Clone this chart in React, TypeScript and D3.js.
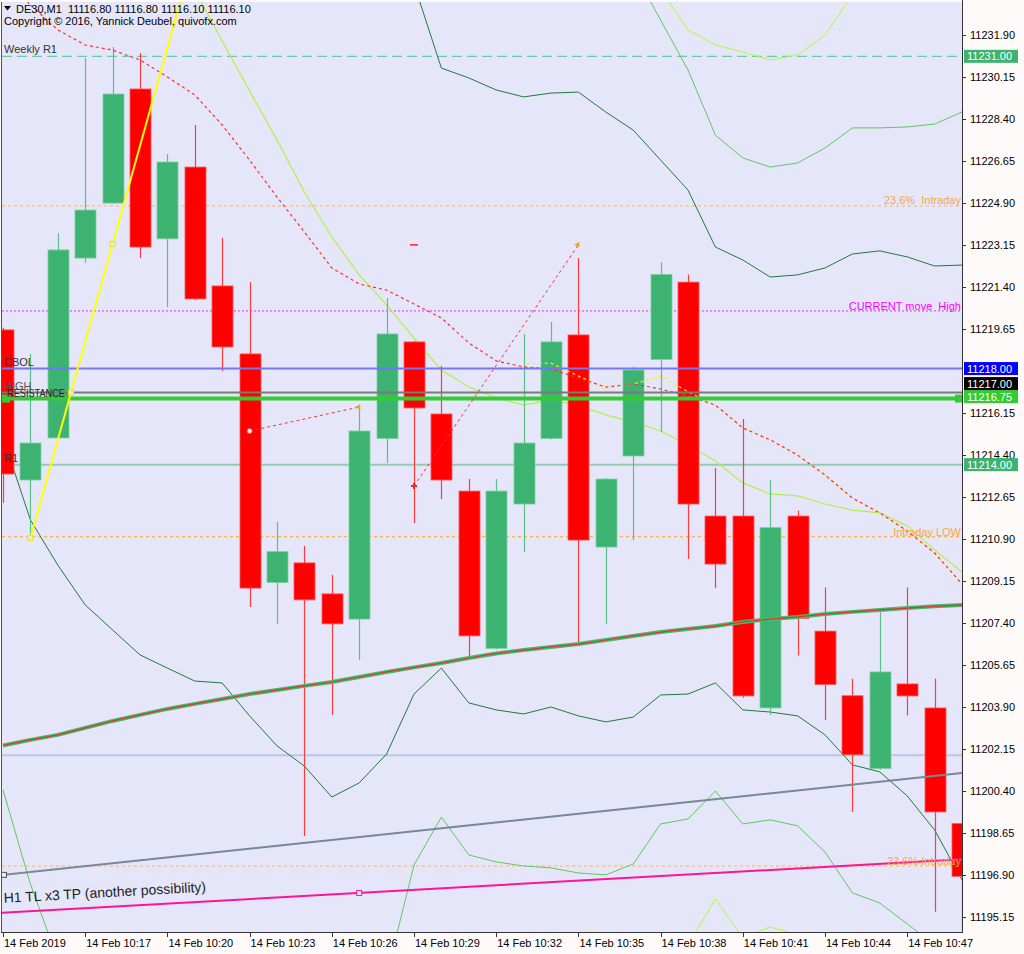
import React, { useEffect } from "react";
import * as d3 from "d3";

// ---------- data ----------
const timeTickBars = [0, 3, 6, 9, 12, 15, 18, 21, 24, 27, 30, 33];
const timeLabels = [
  "14 Feb 2019", "14 Feb 10:17", "14 Feb 10:20", "14 Feb 10:23", "14 Feb 10:26", "14 Feb 10:29",
  "14 Feb 10:32", "14 Feb 10:35", "14 Feb 10:38", "14 Feb 10:41", "14 Feb 10:44", "14 Feb 10:47",
];
// 11217.90 is hidden behind the level boxes in the reference
const priceTicks = [
  11195.15, 11196.9, 11198.65, 11200.4, 11202.15, 11203.9, 11205.65, 11207.4, 11209.15, 11210.9,
  11212.65, 11214.4, 11216.15, 11219.65, 11221.4, 11223.15, 11224.9, 11226.65, 11228.4,
  11230.15, 11231.9,
];

const opens = [11219.61, 11213.36, 11215.11, 11222.6, 11224.89, 11229.64, 11223.4, 11226.39, 11221.44, 11218.61, 11209.09, 11209.91, 11208.62, 11207.57, 11215.09, 11219.11, 11216.11, 11212.9, 11206.35, 11212.36, 11215.09, 11219.4, 11210.57, 11214.36, 11218.38, 11221.6, 11211.86, 11211.86, 11203.87, 11211.86, 11207.07, 11204.38, 11201.35, 11204.87, 11203.87, 11199.06];
const highs = [11219.7, 11218.61, 11223.64, 11230.93, 11231.39, 11231.14, 11226.93, 11228.14, 11223.44, 11221.6, 11211.61, 11210.61, 11209.41, 11216.4, 11220.94, 11219.15, 11218.11, 11213.4, 11213.4, 11219.44, 11219.94, 11222.6, 11213.45, 11218.08, 11222.42, 11221.92, 11213.86, 11215.9, 11213.36, 11212.09, 11208.89, 11205.09, 11207.85, 11208.89, 11205.09, 11202.12];
const lows = [11212.4, 11210.95, 11215.05, 11222.4, 11224.85, 11222.6, 11220.56, 11220.85, 11217.9, 11208.07, 11207.37, 11198.54, 11203.58, 11205.87, 11214.07, 11211.57, 11212.57, 11205.91, 11206.3, 11210.36, 11215.05, 11206.53, 11207.37, 11210.86, 11215.36, 11210.07, 11208.86, 11204.3, 11203.58, 11206.05, 11203.37, 11199.54, 11201.3, 11203.56, 11195.38, 11194.5];
const closes = [11213.61, 11214.9, 11222.94, 11224.6, 11229.43, 11223.06, 11226.6, 11220.9, 11218.9, 11208.86, 11210.38, 11208.37, 11207.37, 11215.4, 11219.44, 11216.36, 11213.36, 11206.87, 11212.9, 11214.9, 11219.11, 11210.86, 11213.4, 11217.94, 11221.92, 11212.36, 11209.86, 11204.37, 11211.38, 11207.6, 11204.85, 11201.92, 11205.37, 11204.37, 11199.54, 11196.86];

// moving averages / bands (null = not drawn)
const maSlow = [11202.31, 11202.54, 11202.75, 11203.04, 11203.33, 11203.58, 11203.83, 11204.04, 11204.24, 11204.45, 11204.62, 11204.79, 11204.95, 11205.16, 11205.37, 11205.56, 11205.74, 11205.95, 11206.14, 11206.28, 11206.41, 11206.53, 11206.7, 11206.87, 11207.03, 11207.16, 11207.28, 11207.45, 11207.57, 11207.66, 11207.78, 11207.87, 11207.95, 11208.03, 11208.1, 11208.16];
const redDotted = [11234.4, 11233.14, 11232.1, 11231.47, 11231.26, 11230.85, 11230.14, 11229.39, 11228.14, 11226.68, 11225.14, 11223.69, 11222.19, 11221.52, 11221.27, 11220.69, 11220.11, 11219.07, 11218.32, 11218.07, 11217.98, 11217.61, 11217.23, 11217.36, 11217.15, 11216.86, 11216.48, 11215.53, 11215.03, 11214.4, 11213.57, 11212.61, 11211.99, 11211.24, 11210.32, 11209.03];
const yellowDotted = [null, null, null, null, null, null, null, null, null, null, null, null, null, null, null, null, null, null, null, 11218.19, 11218.23, 11217.69, 11217.19, 11217.36, 11217.69, 11217.03, 11216.48, 11215.53, 11215.03, 11214.4, 11213.57, 11212.61, 11211.99, 11211.24, 11210.32, 11209.03];
const limeMa = [null, null, null, null, null, null, null, 11233.76, 11231.64, 11229.56, 11227.52, 11225.35, 11223.48, 11221.9, 11220.65, 11219.27, 11217.94, 11217.23, 11216.78, 11216.48, 11216.69, 11216.48, 11216.07, 11215.78, 11215.4, 11214.82, 11214.15, 11213.24, 11212.78, 11212.7, 11212.36, 11212.11, 11211.99, 11211.45, 11210.45, 11209.53];
const bandUpperDark = [null, null, null, null, null, null, null, null, null, null, null, null, null, null, null, 11234.01, 11230.51, 11230.1, 11229.6, 11229.31, 11229.47, 11229.51, 11228.68, 11227.93, 11226.68, 11225.43, 11223.06, 11222.52, 11221.81, 11221.9, 11222.19, 11222.77, 11222.9, 11222.65, 11222.27, 11222.31];
const bandLowerDark = [11215.15, 11211.7, 11209.82, 11208.16, 11207.12, 11206.08, 11205.53, 11204.99, 11204.91, 11203.54, 11202.29, 11201.45, 11200.16, 11200.75, 11201.95, 11204.45, 11205.53, 11204.08, 11203.79, 11203.62, 11203.91, 11203.54, 11203.29, 11203.49, 11204.41, 11204.45, 11204.91, 11203.79, 11203.7, 11203.54, 11202.75, 11201.5, 11201.21, 11200.21, 11198.79, 11196.71];
const bandUpperMid = [null, null, null, null, null, null, null, null, null, null, null, null, null, null, null, null, null, null, null, null, null, null, null, 11234.59, 11232.51, 11230.43, 11227.72, 11226.77, 11226.39, 11226.56, 11227.18, 11228.02, 11228.02, 11228.06, 11228.18, 11228.68];
const bandLowerMid = [11200.46, 11196.54, 11193.4, null, null, null, null, null, null, null, null, null, null, null, 11192.75, 11197.33, 11199.33, 11197.75, 11197.46, 11197.29, 11197.21, 11197.0, 11196.92, 11197.37, 11199.04, 11199.25, 11200.41, 11199.04, 11199.21, 11198.96, 11197.87, 11196.17, 11195.75, 11194.88, 11194.0, 11193.4];
const bandUpperOuter = [null, null, null, null, null, null, null, null, null, null, null, null, null, null, null, null, null, null, null, null, null, null, null, null, 11233.76, 11232.1, 11231.47, 11231.18, 11230.85, 11231.05, 11231.89, 11233.55, null, null, null, null];
const bandLowerOuter = [null, null, null, null, null, null, null, null, null, null, null, null, null, null, null, null, null, null, null, null, null, null, null, null, 11192.0, 11193.99, 11195.92, 11194.3, 11194.75, 11194.42, 11193.4, null, null, null, null, null];

// horizontal levels
const weeklyR1 = 11231.0;
const intradayFib236Top = 11224.77;
const currentMoveHigh = 11220.4;
const cbolLevel = 11218.0;
const highLevel = 11217.0;
const resistanceLevel = 11216.75;
const r1Level = 11214.0;
const intradayLow = 11211.0;
const steelLevel = 11201.9;
const intradayFib236Bottom = 11197.29;

// trend lines: [bar, price] anchors
const grayTL = [[0, 11196.92], [35, 11201.16]];
const pinkTL = [[0, 11195.34], [35, 11197.57]];
const yellowTL = [[1, 11210.95], [4, 11223.19]];
const tradeA = [[9, 11215.4], [13, 11216.4]];
const tradeB = [[15, 11213.11], [21, 11223.15]];

// ---------- chart ----------
const W = 1024;
const H = 954;
const L = 2, R = 962, T = 2, B = 932;
const FONT = "'Liberation Sans', Arial, sans-serif";

const x = d3.scaleLinear().domain([0, 35]).range([3, 962]);
const y = d3.scaleLinear().domain([11195.15, 11231.9]).range([917.4, 34.7]);

const BULL = "#3cb371";
const BEAR = "#ff0000";

function series(vals: (number | null)[]) {
  return d3
    .line<number | null>()
    .defined((v) => v != null)
    .x((_, i) => x(i))
    .y((v) => y(v as number))(vals) || "";
}

function lineAt(tl: number[][], bar: number) {
  const [[b0, p0], [b1, p1]] = tl;
  return p0 + ((p1 - p0) * (bar - b0)) / (b1 - b0);
}

export default function App() {
  useEffect(() => {
    document.body.style.margin = "0";
  }, []);

  const yb0 = yellowTL[0][0];
  const yp0 = yellowTL[0][1];
  const slope = (yellowTL[1][1] - yellowTL[0][1]) / (yellowTL[1][0] - yellowTL[0][0]);
  const yEndBar = yb0 + (y.invert(T) - yp0) / slope;
  const yCrossBar = yb0 + (highLevel - yp0) / slope;

  const hLine = (p: number, stroke: string, sw: number, dash?: string) => (
    <line x1={L} x2={R} y1={y(p)} y2={y(p)} stroke={stroke} strokeWidth={sw} strokeDasharray={dash} />
  );

  const rightLabel = (p: number, text: string, color: string, dy = -2) => (
    <text x={R - 1} y={y(p) + dy} textAnchor="end" fill={color} fontSize={11} style={{ whiteSpace: "pre" }}>
      {text}
    </text>
  );

  const box = (cy: number, text: string, bg: string, fg = "#ffffff") => (
    <g>
      <rect x={964} y={cy - 6.5} width={54} height={13} fill={bg} />
      <text x={967} y={cy + 4} fill={fg} fontSize={11}>
        {text}
      </text>
    </g>
  );

  const square = (cx: number, cy: number, color: string) => (
    <rect x={cx - 2.5} y={cy - 2.5} width={5} height={5} fill="#e6e6fa" stroke={color} strokeWidth={1} />
  );

  return (
    <svg width={W} height={H} style={{ display: "block" }} fontFamily={FONT}>
      <defs>
        <clipPath id="plot">
          <rect x={L} y={T} width={R - L} height={B - T} />
        </clipPath>
      </defs>
      <rect x={0} y={0} width={W} height={H} fill="#fffafa" />
      <rect x={L} y={T} width={R - L} height={B - T} fill="#e6e6fa" />

      <g clipPath="url(#plot)">
        {hLine(weeklyR1, "#66cdaa", 1.2, "10,5")}
        {hLine(intradayFib236Top, "#f7b35a", 1, "3,3")}
        {hLine(currentMoveHigh, "#e030e0", 1, "2,2")}
        {hLine(r1Level, "#93cbb0", 2)}
        {hLine(intradayLow, "#f7b35a", 1.2, "3,3")}
        {hLine(steelLevel, "#b8c8de", 2)}
        {hLine(intradayFib236Bottom, "#f7b35a", 1.2, "3,3")}

        <path d={series(bandUpperOuter)} fill="none" stroke="#adff2f" strokeWidth={1} />
        <path d={series(bandLowerOuter)} fill="none" stroke="#adff2f" strokeWidth={1} />
        <path d={series(bandUpperMid)} fill="none" stroke="#5dc95d" strokeWidth={1} />
        <path d={series(bandLowerMid)} fill="none" stroke="#5dc95d" strokeWidth={1} />
        <path d={series(bandUpperDark)} fill="none" stroke="#1f7a3a" strokeWidth={1} />
        <path d={series(bandLowerDark)} fill="none" stroke="#1f7a3a" strokeWidth={1} />
        <path d={series(limeMa)} fill="none" stroke="#b2f046" strokeWidth={1.2} />

        {opens.map((o, i) => {
          const c = closes[i];
          const up = c >= o;
          const col = up ? BULL : BEAR;
          const cx = Math.round(x(i)) + 0.5;
          const top = y(Math.max(o, c));
          const bot = y(Math.min(o, c));
          return (
            <g key={i}>
              <line x1={cx} x2={cx} y1={y(highs[i])} y2={y(lows[i])} stroke={up ? "#5cbf88" : "#ff3a3a"} strokeWidth={1.2} />
              <rect x={cx - 10.5} y={top} width={21} height={Math.max(1, bot - top)} fill={col} stroke={up ? "#7fcfa0" : "#ff5a5a"} strokeWidth={0.8} />
            </g>
          );
        })}

        <path d={series(maSlow)} fill="none" stroke="#47b96f" strokeWidth={4} />
        <path d={series(maSlow)} fill="none" stroke="#d83a2a" strokeWidth={1.2} />

        <path d={series(yellowDotted)} fill="none" stroke="#ffee00" strokeWidth={1.2} strokeDasharray="3,3" strokeDashoffset={3} />
        <path d={series(redDotted)} fill="none" stroke="#ff3030" strokeWidth={1.2} strokeDasharray="3,3" />

        {hLine(cbolLevel, "#7474f6", 2)}
        {hLine(highLevel, "#7a7a7a", 2)}
        {hLine(resistanceLevel, "#32cd32", 4)}
        <rect x={L} y={y(resistanceLevel) - 4} width={8} height={8} fill="#32cd32" />
        <rect x={R - 7} y={y(resistanceLevel) - 4} width={8} height={8} fill="#32cd32" />

        <line x1={x(grayTL[0][0]) - 2} y1={y(lineAt(grayTL, -0.05))} x2={x(grayTL[1][0])} y2={y(grayTL[1][1])} stroke="#778899" strokeWidth={2} />
        {square(x(0) + 1, y(lineAt(grayTL, 0)), "#555")}
        <line x1={x(pinkTL[0][0]) - 2} y1={y(lineAt(pinkTL, -0.05))} x2={x(pinkTL[1][0])} y2={y(pinkTL[1][1])} stroke="#ff1493" strokeWidth={2} />
        {square(x(13), y(lineAt(pinkTL, 13)), "#ff1493")}
        <line x1={x(yb0)} y1={y(yp0)} x2={x(yEndBar)} y2={y(y.invert(T))} stroke="#ffff00" strokeWidth={2} />
        {square(x(yb0), y(yp0), "#e8e800")}
        {square(x(yellowTL[1][0]), y(yellowTL[1][1]), "#e8e800")}
        {square(x(yCrossBar), y(highLevel), "#e8e800")}

        <line x1={x(tradeA[0][0])} y1={y(tradeA[0][1])} x2={x(tradeA[1][0])} y2={y(tradeA[1][1])} stroke="#ff3030" strokeWidth={1} strokeDasharray="3,3" />
        <circle cx={x(tradeA[0][0])} cy={y(tradeA[0][1])} r={2.5} fill="#ffffff" stroke="#ff5050" strokeWidth={1} />
        <path d={`M${x(tradeA[1][0]) + 1},${y(tradeA[1][1]) - 3} l0,6 l-5,-3 z`} fill="#f0a030" />
        <line x1={x(tradeB[0][0])} y1={y(tradeB[0][1])} x2={x(tradeB[1][0])} y2={y(tradeB[1][1])} stroke="#ff3030" strokeWidth={1} strokeDasharray="3,3" />
        <path d={`M${x(tradeB[0][0]) - 3},${y(tradeB[0][1])} h6 M${x(tradeB[0][0])},${y(tradeB[0][1]) - 3} v6`} stroke="#ff2020" strokeWidth={2} />
        <path d={`M${x(tradeB[1][0]) + 1},${y(tradeB[1][1]) - 3} l0,6 l-5,-3 z`} fill="#f0a030" />
        <line x1={x(tradeB[0][0]) - 4} x2={x(tradeB[0][0]) + 4} y1={y(tradeB[1][1])} y2={y(tradeB[1][1])} stroke="#ff2020" strokeWidth={1.5} />

        <text x={4} y={y(weeklyR1) - 3} fill="#333" fontSize={11}>Weekly R1</text>
        <text x={4} y={y(cbolLevel) - 3} fill="#333" fontSize={11}>CBOL</text>
        <text x={4} y={y(highLevel) - 3} fill="#555" fontSize={11}>HIGH</text>
        <text x={7} y={y(resistanceLevel) - 2} fill="#222" fontSize={11} textLength={58} lengthAdjust="spacingAndGlyphs">RESISTANCE</text>
        <text x={4} y={y(r1Level) - 3} fill="#333" fontSize={11}>R1</text>
        {rightLabel(intradayFib236Top, "23.6%  Intraday", "#f5a940")}
        {rightLabel(currentMoveHigh, "CURRENT move  High", "#ff00ff", -1)}
        {rightLabel(intradayLow, "Intraday LOW", "#f5a940", -1)}
        {rightLabel(intradayFib236Bottom, "23.6% Intraday", "#f5a940", -1)}
        <text
          x={4}
          y={y(lineAt(pinkTL, 0)) - 10}
          fill="#222"
          fontSize={14}
          transform={`rotate(-3.2 4 ${y(lineAt(pinkTL, 0)) - 10})`}
        >
          H1 TL x3 TP (another possibility)
        </text>
      </g>

      <path d="M4,6 h7 l-3.5,4.5 z" fill="#000" />
      <text x={16} y={13} fontSize={11} fill="#000" style={{ whiteSpace: "pre" }}>
        DE30,M1  11116.80 11116.80 11116.10 11116.10
      </text>
      <text x={4} y={25} fontSize={11} fill="#000">
        Copyright © 2016, Yannick Deubel, quivofx.com
      </text>

      <line x1={L - 0.5} x2={L - 0.5} y1={T} y2={B} stroke="#555" strokeWidth={1} />
      <line x1={R + 0.5} x2={R + 0.5} y1={0} y2={B + 1} stroke="#333" strokeWidth={1} />
      <line x1={L - 1} x2={R + 1} y1={B + 0.5} y2={B + 0.5} stroke="#333" strokeWidth={1} />

      {priceTicks.map((p) => (
        <g key={p}>
          <line x1={R} x2={R + 4} y1={Math.round(y(p)) + 0.5} y2={Math.round(y(p)) + 0.5} stroke="#333" />
          <text x={970} y={y(p) + 4} fontSize={11} fill="#000">{p.toFixed(2)}</text>
        </g>
      ))}
      {box(y(weeklyR1), weeklyR1.toFixed(2), "#3cb371")}
      {box(y(cbolLevel), cbolLevel.toFixed(2), "#0000ff")}
      {box(y(resistanceLevel) - 2, resistanceLevel.toFixed(2), "#32cd32")}
      {box(y(highLevel) - 9, highLevel.toFixed(2), "#000000")}
      {box(y(r1Level), r1Level.toFixed(2), "#3cb371")}

      {timeTickBars.map((b, i) => (
        <g key={b}>
          <line x1={Math.round(x(b)) + 0.5} x2={Math.round(x(b)) + 0.5} y1={B} y2={B + 5} stroke="#333" />
          <text x={x(b) + 1} y={947} fontSize={11} fill="#000">{timeLabels[i]}</text>
        </g>
      ))}
    </svg>
  );
}
